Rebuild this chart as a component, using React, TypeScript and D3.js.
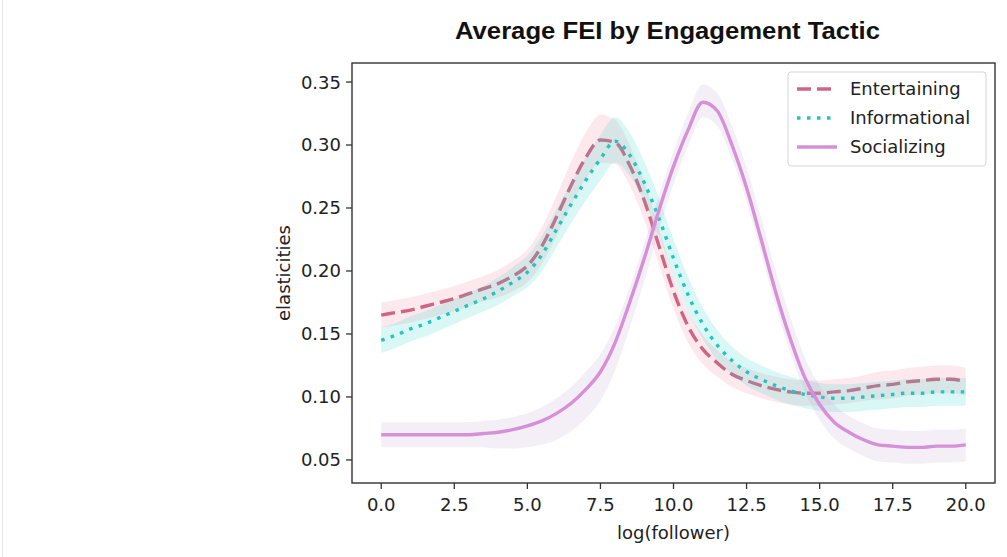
import React, { useRef, useEffect } from "react";
import * as d3 from "d3";

// log(follower) grid shared by all three series
const xValues = [
  0, 0.5, 1, 1.5, 2, 2.5, 3, 3.5, 4, 4.5, 5, 5.5, 6, 6.5, 7, 7.5, 8, 8.5, 9, 9.5,
  10, 10.5, 11, 11.5, 12, 12.5, 13, 13.5, 14, 14.5, 15, 15.5, 16, 16.5, 17,
  17.5, 18, 18.5, 19, 19.5, 20,
];

const entertaining = [
  0.165, 0.167, 0.169, 0.172, 0.175, 0.178, 0.182, 0.186, 0.19, 0.196, 0.204,
  0.22, 0.243, 0.268, 0.29, 0.304, 0.302, 0.284, 0.256, 0.22, 0.184, 0.156,
  0.138, 0.127, 0.118, 0.113, 0.109, 0.106, 0.104, 0.103, 0.103, 0.104, 0.105,
  0.107, 0.109, 0.11, 0.112, 0.113, 0.114, 0.114, 0.112,
];
const entertainingLo = [
  0.01, 0.01, 0.01, 0.01, 0.01, 0.01, 0.01, 0.01, 0.011, 0.012, 0.013, 0.014,
  0.015, 0.016, 0.017, 0.018, 0.017, 0.016, 0.016, 0.015, 0.014, 0.013, 0.012,
  0.011, 0.01, 0.01, 0.01, 0.01, 0.01, 0.01, 0.01, 0.01, 0.01, 0.01, 0.011,
  0.011, 0.011, 0.011, 0.011, 0.011, 0.011,
];
const entertainingHi = [
  0.01, 0.01, 0.01, 0.01, 0.01, 0.01, 0.01, 0.01, 0.011, 0.012, 0.013, 0.015,
  0.017, 0.019, 0.02, 0.02, 0.018, 0.016, 0.015, 0.014, 0.013, 0.012, 0.011,
  0.01, 0.01, 0.01, 0.01, 0.01, 0.01, 0.01, 0.01, 0.01, 0.01, 0.01, 0.011,
  0.011, 0.011, 0.011, 0.011, 0.011, 0.011,
];

const informational = [
  0.145, 0.149, 0.154, 0.158, 0.163, 0.168, 0.173, 0.178, 0.184, 0.191, 0.199,
  0.213, 0.233, 0.253, 0.272, 0.289, 0.303, 0.292, 0.27, 0.242, 0.21, 0.181,
  0.158, 0.141, 0.129, 0.12, 0.114, 0.109, 0.105, 0.102, 0.1, 0.099, 0.099,
  0.1, 0.101, 0.102, 0.103, 0.103, 0.104, 0.104, 0.104,
];
const informationalLo = [
  0.01, 0.01, 0.01, 0.01, 0.01, 0.01, 0.01, 0.01, 0.011, 0.011, 0.012, 0.013,
  0.014, 0.015, 0.016, 0.017, 0.017, 0.016, 0.015, 0.014, 0.013, 0.013,
  0.012, 0.012, 0.011, 0.011, 0.011, 0.011, 0.011, 0.011, 0.011, 0.011,
  0.011, 0.011, 0.011, 0.011, 0.011, 0.011, 0.011, 0.011, 0.011,
];
const informationalHi = [
  0.01, 0.01, 0.01, 0.01, 0.01, 0.01, 0.01, 0.01, 0.011, 0.012, 0.013, 0.015,
  0.016, 0.017, 0.018, 0.019, 0.019, 0.018, 0.017, 0.016, 0.015, 0.014,
  0.013, 0.012, 0.011, 0.011, 0.011, 0.011, 0.011, 0.011, 0.011, 0.011,
  0.011, 0.011, 0.011, 0.011, 0.011, 0.011, 0.011, 0.011, 0.011,
];

const socializing = [
  0.07, 0.07, 0.07, 0.07, 0.07, 0.07, 0.07, 0.071, 0.072, 0.074, 0.077, 0.081,
  0.087, 0.095, 0.106, 0.12, 0.143, 0.175, 0.21, 0.248, 0.283, 0.312, 0.334,
  0.327, 0.3, 0.266, 0.225, 0.183, 0.146, 0.115, 0.094, 0.08, 0.072, 0.066,
  0.062, 0.061, 0.06, 0.06, 0.061, 0.061, 0.062,
];
const socializingLo = [
  0.01, 0.01, 0.01, 0.01, 0.01, 0.01, 0.01, 0.011, 0.013, 0.015, 0.017,
  0.019, 0.021, 0.022, 0.023, 0.023, 0.022, 0.02, 0.018, 0.016, 0.014,
  0.013, 0.012, 0.012, 0.011, 0.011, 0.011, 0.011, 0.011, 0.011, 0.012,
  0.013, 0.013, 0.013, 0.013, 0.013, 0.013, 0.013, 0.013, 0.013, 0.013,
];
const socializingHi = [
  0.01, 0.01, 0.01, 0.01, 0.01, 0.01, 0.01, 0.01, 0.01, 0.01, 0.01, 0.011,
  0.012, 0.013, 0.014, 0.014, 0.013, 0.012, 0.012, 0.012, 0.012, 0.013,
  0.014, 0.014, 0.015, 0.016, 0.017, 0.017, 0.017, 0.016, 0.015, 0.014,
  0.013, 0.013, 0.013, 0.013, 0.013, 0.013, 0.013, 0.013, 0.013,
];

const xTicks = [0, 2.5, 5, 7.5, 10, 12.5, 15, 17.5, 20];
const yTicks = [0.05, 0.1, 0.15, 0.2, 0.25, 0.3, 0.35];

const seriesNames = ["Entertaining", "Informational", "Socializing"];
const seriesColors = ["#cf6584", "#1fc6c0", "#d690d8"];
const bandColors = ["#f48fa6", "#3fd6cf", "#c8a8d2"];
const seriesDash = ["14,6", "3.5,6.5", null];

const App = () => {
  const chartRef = useRef(null);

  useEffect(() => {
    var width = 1007;
    var height = 557;
    var left = 352;
    var right = 995;
    var top = 63;
    var bottom = 483;

    const root = d3.select(chartRef.current);
    root.selectAll("*").remove();

    const svg = root
      .append("svg")
      .attr("width", width)
      .attr("height", height)
      .style("display", "block")
      .style("background", "white");

    // faint border of the screenshot on the left
    svg
      .append("line")
      .attr("x1", 2.5)
      .attr("x2", 2.5)
      .attr("y1", 0)
      .attr("y2", height)
      .attr("stroke", "#e4e4e4")
      .attr("stroke-width", 1);

    var x = d3.scaleLinear().domain([-1, 21]).range([left, right]);
    var y = d3.scaleLinear().domain([0.0317, 0.3651]).range([bottom, top]);

    const series = [
      { values: entertaining, lo: entertainingLo, hi: entertainingHi },
      { values: informational, lo: informationalLo, hi: informationalHi },
      { values: socializing, lo: socializingLo, hi: socializingHi },
    ];

    const plot = svg.append("g");

    series.forEach((s, k) => {
      const pts = xValues.map((xv, i) => ({
        x: xv,
        y: s.values[i],
        lo: s.values[i] - s.lo[i],
        hi: s.values[i] + s.hi[i],
      }));

      const area = d3
        .area()
        .x((d) => x(d.x))
        .y0((d) => y(d.lo))
        .y1((d) => y(d.hi))
        .curve(d3.curveMonotoneX);

      plot
        .append("path")
        .attr("d", area(pts))
        .attr("fill", bandColors[k])
        .attr("fill-opacity", 0.2)
        .attr("stroke", "none");

      const line = d3
        .line()
        .x((d) => x(d.x))
        .y((d) => y(d.y))
        .curve(d3.curveMonotoneX);

      const path = plot
        .append("path")
        .attr("d", line(pts))
        .attr("fill", "none")
        .attr("stroke", seriesColors[k])
        .attr("stroke-width", 3.4);
      if (seriesDash[k]) path.attr("stroke-dasharray", seriesDash[k]);
    });

    // frame
    svg
      .append("rect")
      .attr("x", left)
      .attr("y", top)
      .attr("width", right - left)
      .attr("height", bottom - top)
      .attr("fill", "none")
      .attr("stroke", "#333")
      .attr("stroke-width", 1.4);

    var tickFont = "'DejaVu Sans', sans-serif";

    // x ticks
    xTicks.forEach((t) => {
      svg
        .append("line")
        .attr("x1", x(t))
        .attr("x2", x(t))
        .attr("y1", bottom)
        .attr("y2", bottom + 6)
        .attr("stroke", "#333")
        .attr("stroke-width", 1.3);
      svg
        .append("text")
        .attr("x", x(t))
        .attr("y", bottom + 28)
        .attr("text-anchor", "middle")
        .attr("font-family", tickFont)
        .attr("font-size", "18px")
        .attr("fill", "#222")
        .text(t.toFixed(1));
    });

    // y ticks
    yTicks.forEach((t) => {
      svg
        .append("line")
        .attr("x1", left - 6)
        .attr("x2", left)
        .attr("y1", y(t))
        .attr("y2", y(t))
        .attr("stroke", "#333")
        .attr("stroke-width", 1.3);
      svg
        .append("text")
        .attr("x", left - 11)
        .attr("y", y(t))
        .attr("dy", "0.36em")
        .attr("text-anchor", "end")
        .attr("font-family", tickFont)
        .attr("font-size", "18px")
        .attr("fill", "#222")
        .text(t.toFixed(2));
    });

    // axis labels
    svg
      .append("text")
      .attr("x", (left + right) / 2)
      .attr("y", 539)
      .attr("text-anchor", "middle")
      .attr("font-family", tickFont)
      .attr("font-size", "18px")
      .attr("fill", "#222")
      .text("log(follower)");

    svg
      .append("text")
      .attr("transform", `translate(290,${(top + bottom) / 2}) rotate(-90)`)
      .attr("text-anchor", "middle")
      .attr("font-family", tickFont)
      .attr("font-size", "18px")
      .attr("fill", "#222")
      .text("elasticities");

    // title
    svg
      .append("text")
      .attr("x", 455)
      .attr("y", 39)
      .attr("textLength", 425)
      .attr("lengthAdjust", "spacingAndGlyphs")
      .attr("font-family", "'Liberation Sans', Arial, sans-serif")
      .attr("font-weight", "bold")
      .attr("font-size", "24px")
      .attr("fill", "#111")
      .text("Average FEI by Engagement Tactic");

    // legend
    const legend = svg.append("g").attr("transform", "translate(788,72)");
    legend
      .append("rect")
      .attr("width", 198)
      .attr("height", 94)
      .attr("rx", 3)
      .attr("fill", "white")
      .attr("fill-opacity", 0.85)
      .attr("stroke", "#d5d5d5")
      .attr("stroke-width", 1);

    seriesNames.forEach((name, k) => {
      var ly = 17 + k * 29;
      const sample = legend
        .append("line")
        .attr("x1", 9)
        .attr("x2", 49)
        .attr("y1", ly)
        .attr("y2", ly)
        .attr("stroke", seriesColors[k])
        .attr("stroke-width", 3.4);
      if (seriesDash[k]) sample.attr("stroke-dasharray", seriesDash[k]);
      legend
        .append("text")
        .attr("x", 62)
        .attr("y", ly)
        .attr("dy", "0.36em")
        .attr("font-family", tickFont)
        .attr("font-size", "18px")
        .attr("fill", "#222")
        .text(name);
    });
  }, []);

  return (
    <div
      ref={chartRef}
      style={{ position: "absolute", left: 0, top: 0 }}
    ></div>
  );
};

export default App;
